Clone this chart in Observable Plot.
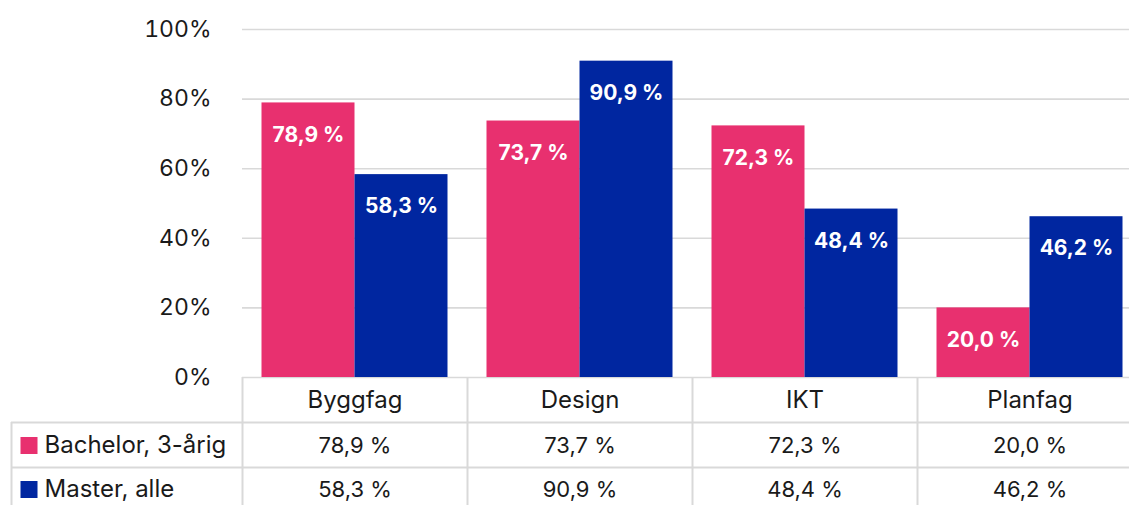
<!DOCTYPE html>
<html><head><meta charset="utf-8">
<script src="https://cdn.jsdelivr.net/npm/d3@7"></script>
<script src="https://cdn.jsdelivr.net/npm/@observablehq/plot@0.6"></script>
<style>html,body{margin:0;background:#fff;overflow:hidden}svg{display:block}</style>
</head><body><div id="chart"></div>
<script>
const categories = ["Byggfag", "Design", "IKT", "Planfag"];
const seriesNames = ["Bachelor, 3-årig", "Master, alle"];
const bachelor = [78.9, 73.7, 72.3, 20.0];
const master = [58.3, 90.9, 48.4, 46.2];
const yTicks = [0, 20, 40, 60, 80, 100];
const colors = ["#E8306F", "#0026A0"];

const fmt = v => v.toFixed(1).replace(".", ",") + " %";
const seriesValues = [bachelor, master];
const data = seriesValues.map((vals, s) => categories.map((c, i) => ({category: c, series: seriesNames[s], value: vals[i]})));

const font = "Inter, 'Noto Sans', sans-serif";
const textColor = "#1a1a1a";
const lineColor = "#d9d9d9";

const barInsets = [[19.5, 112.5], [112.5, 19.5]];
const labelDx = [-46.5, 46.5];
const rowDy = [68, 112];

const marks = [
  Plot.gridY(yTicks, {stroke: lineColor, strokeOpacity: 1, strokeWidth: 1.6}),
  Plot.axisY(yTicks, {tickFormat: d => d + "%", tickSize: 0, tickPadding: 31, fontSize: 23, fill: textColor, label: null}),
  // table frame lines
  Plot.ruleY([0], {dy: 45, insetLeft: -231, stroke: lineColor, strokeWidth: 2}),
  Plot.ruleY([0], {dy: 90, insetLeft: -231, stroke: lineColor, strokeWidth: 2}),
  Plot.ruleX(categories, {x: d => d, dx: -112.5, insetTop: 348, insetBottom: -130, stroke: lineColor, strokeWidth: 2}),
  Plot.ruleX(categories.slice(0, 1), {x: d => d, dx: -112.5 - 231, insetTop: 393, insetBottom: -130, stroke: lineColor, strokeWidth: 2}),
  Plot.text(categories, {x: d => d, frameAnchor: "bottom", lineAnchor: "middle", dy: 23, fontSize: 24, fill: textColor})
];

data.forEach((rows, s) => {
  marks.push(
    Plot.barY(rows, {x: "category", y: "value", fill: colors[s], insetLeft: barInsets[s][0], insetRight: barInsets[s][1]}),
    Plot.text(rows, {x: "category", y: "value", text: d => fmt(d.value), dx: labelDx[s], dy: 32, fill: "white", fontWeight: "bold", fontSize: 21}),
    Plot.text(rows, {x: "category", text: d => fmt(d.value), frameAnchor: "bottom", lineAnchor: "middle", dy: rowDy[s], fontSize: 22, fill: textColor}),
    Plot.dot([seriesNames[s]], {frameAnchor: "bottom-left", dx: 28.5 - 242, dy: rowDy[s], symbol: "square", r: 9.6, fill: colors[s]}),
    Plot.text([seriesNames[s]], {text: d => d, frameAnchor: "bottom-left", lineAnchor: "middle", textAnchor: "start", dx: 44 - 242, dy: rowDy[s], fontSize: 24, fill: textColor})
  );
});

const chart = Plot.plot({
  width: 1129,
  height: 505,
  marginLeft: 242,
  marginRight: 0,
  marginTop: 29,
  marginBottom: 128,
  style: {fontFamily: font, background: "#fff", overflow: "visible"},
  x: {domain: categories, range: [242, 1142], padding: 0, axis: null},
  y: {domain: [0, 100], axis: null},
  marks
});
document.getElementById("chart").append(chart);
</script>
</body></html>
